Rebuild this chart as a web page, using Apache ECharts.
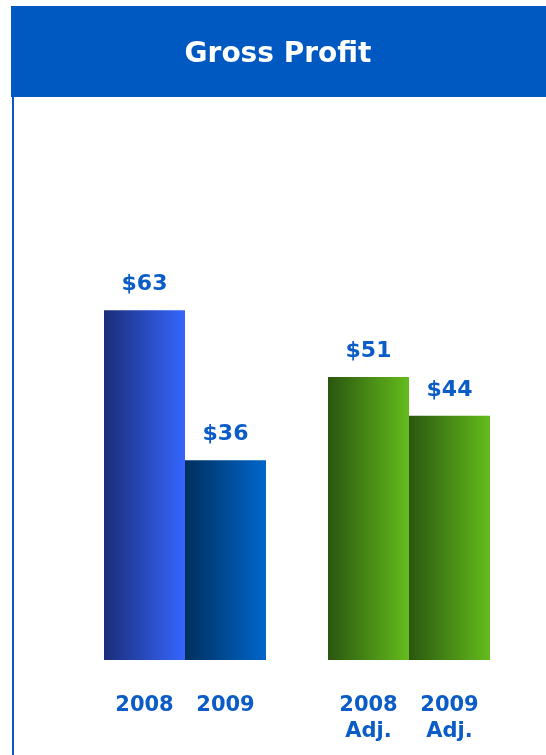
<!DOCTYPE html>
<html>
<head>
<meta charset="utf-8">
<title>Gross Profit</title>
<script src="https://cdn.jsdelivr.net/npm/echarts@6/dist/echarts.min.js"></script>
<style>
  html, body { margin: 0; padding: 0; background: #ffffff; }
  #chart { width: 546px; height: 755px; }
</style>
</head>
<body>
<div id="chart"></div>
<script>
// Gross profit, reported vs. adjusted ($ millions)
const groups = ['Reported', 'Adjusted'];
const firstYearValues = [63, 51];
const secondYearValues = [36, 44];
const firstYearLabels = ['2008', '2008\nAdj.'];
const secondYearLabels = ['2009', '2009\nAdj.'];
const valuePrefix = '$';

const labelBlue = '#0B5CC7';
const font = '"DejaVu Sans", Verdana, sans-serif';

// left-to-right gradient stops for each bar
const firstYearShades = [['#1b2d78', '#3566ff'], ['#2a560f', '#64bc1c']];
const secondYearShades = [['#002f5e', '#0066cc'], ['#2a560f', '#64bc1c']];

function shade(stops) {
  return new echarts.graphic.LinearGradient(0, 0, 1, 0, [
    { offset: 0, color: stops[0] },
    { offset: 1, color: stops[1] }
  ]);
}

function valueSeries(values, shades, stack) {
  return {
    type: 'bar',
    stack: stack,
    barWidth: 81,
    barGap: 0,
    data: values.map((v, i) => ({ value: v, itemStyle: { color: shade(shades[i]) } })),
    label: {
      show: true,
      position: 'top',
      distance: 15,
      formatter: p => valuePrefix + p.value,
      color: labelBlue,
      fontFamily: font,
      fontWeight: 'bold',
      fontSize: 22
    }
  };
}

function categorySeries(labels, stack) {
  return {
    type: 'bar',
    stack: stack,
    barWidth: 81,
    barGap: 0,
    silent: true,
    itemStyle: { color: 'rgba(0,0,0,0)' },
    data: labels.map(() => 0),
    label: {
      show: true,
      position: 'bottom',
      distance: 33,
      formatter: p => labels[p.dataIndex],
      color: labelBlue,
      fontFamily: font,
      fontWeight: 'bold',
      fontSize: 21,
      lineHeight: 26
    }
  };
}

const chart = echarts.init(document.getElementById('chart'), null, { renderer: 'canvas' });
chart.setOption({
  animation: false,
  backgroundColor: '#ffffff',
  graphic: [
    { type: 'rect', z: 0, shape: { x: 11, y: 6, width: 535, height: 91 }, style: { fill: '#0059C1' } },
    { type: 'rect', z: 0, shape: { x: 12, y: 97, width: 2, height: 658 }, style: { fill: '#0A57C6' } }
  ],
  title: {
    text: 'Gross Profit',
    left: 273,
    top: 36,
    textAlign: 'center',
    z: 10,
    textStyle: { color: '#ffffff', fontFamily: font, fontWeight: 'bold', fontSize: 28 }
  },
  grid: { left: 73, right: 25, top: 216, bottom: 95 },
  xAxis: {
    type: 'category',
    data: groups,
    axisLine: { show: false },
    axisTick: { show: false },
    axisLabel: { show: false }
  },
  yAxis: {
    type: 'value',
    min: 0,
    max: 80,
    show: false,
    splitLine: { show: false }
  },
  series: [
    categorySeries(firstYearLabels, 'first'),
    valueSeries(firstYearValues, firstYearShades, 'first'),
    categorySeries(secondYearLabels, 'second'),
    valueSeries(secondYearValues, secondYearShades, 'second')
  ]
});
</script>
</body>
</html>
